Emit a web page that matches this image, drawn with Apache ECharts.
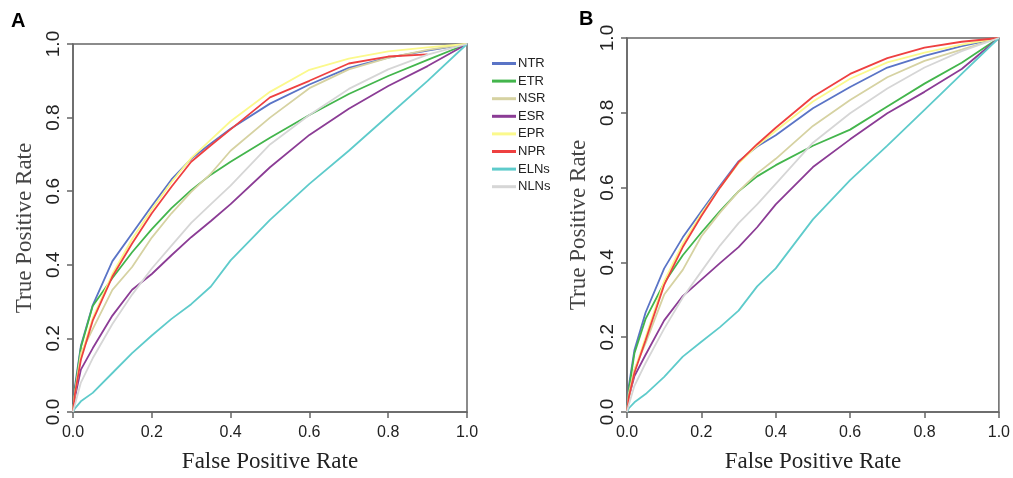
<!DOCTYPE html>
<html>
<head>
<meta charset="utf-8">
<script src="https://cdn.jsdelivr.net/npm/echarts@6/dist/echarts.min.js"></script>
<style>
html, body { margin: 0; padding: 0; background: #fff; }
#main { width: 1013px; height: 478px; }
</style>
</head>
<body>
<div id="main"></div>
<script>
// shared false positive rate grid
const fpr = [0, 0.005, 0.02, 0.05, 0.1, 0.15, 0.2, 0.25, 0.3, 0.35, 0.4, 0.5, 0.6, 0.7, 0.8, 0.9, 1];
const names = ["NTR", "ETR", "NSR", "ESR", "EPR", "NPR", "ELNs", "NLNs"];
const colors = ["#5a74c6", "#43b54c", "#d6d2a2", "#8b3c95", "#fbf98c", "#ee4040", "#5ecbcb", "#d6d6d6"];

// panel A true positive rates
const ntrA  = [0, 0.07, 0.18, 0.29, 0.41, 0.485, 0.56, 0.632, 0.688, 0.73, 0.77, 0.838, 0.89, 0.935, 0.963, 0.982, 1];
const etrA  = [0, 0.06, 0.175, 0.288, 0.364, 0.434, 0.497, 0.554, 0.603, 0.645, 0.68, 0.745, 0.807, 0.864, 0.913, 0.957, 1];
const nsrA  = [0, 0.05, 0.16, 0.225, 0.332, 0.394, 0.474, 0.54, 0.598, 0.648, 0.71, 0.80, 0.88, 0.931, 0.962, 0.984, 1];
const esrA  = [0, 0.04, 0.115, 0.173, 0.262, 0.332, 0.375, 0.426, 0.475, 0.519, 0.565, 0.665, 0.753, 0.824, 0.886, 0.94, 1];
const eprA  = [0, 0.05, 0.15, 0.255, 0.375, 0.47, 0.55, 0.625, 0.69, 0.74, 0.79, 0.87, 0.93, 0.96, 0.98, 0.991, 1];
const nprA  = [0, 0.05, 0.142, 0.248, 0.368, 0.458, 0.54, 0.612, 0.68, 0.725, 0.768, 0.855, 0.90, 0.947, 0.966, 0.972, null];
const elnsA = [0, 0.01, 0.029, 0.052, 0.106, 0.16, 0.208, 0.253, 0.293, 0.341, 0.412, 0.522, 0.62, 0.71, 0.805, 0.90, 1];
const nlnsA = [0, 0.02, 0.08, 0.146, 0.239, 0.319, 0.39, 0.452, 0.514, 0.565, 0.615, 0.727, 0.807, 0.878, 0.931, 0.971, 1];

// panel B true positive rates
const ntrB  = [0, 0.07, 0.166, 0.266, 0.384, 0.467, 0.537, 0.605, 0.67, 0.71, 0.74, 0.812, 0.869, 0.921, 0.952, 0.978, 1];
const etrB  = [0, 0.06, 0.157, 0.249, 0.345, 0.419, 0.48, 0.537, 0.59, 0.63, 0.66, 0.712, 0.755, 0.817, 0.878, 0.934, 1];
const nsrB  = [0, 0.05, 0.114, 0.184, 0.314, 0.38, 0.47, 0.533, 0.59, 0.638, 0.677, 0.765, 0.834, 0.895, 0.939, 0.969, 1];
const esrB  = [0, 0.04, 0.096, 0.153, 0.245, 0.31, 0.354, 0.398, 0.441, 0.494, 0.555, 0.655, 0.729, 0.799, 0.856, 0.917, 1];
const eprB  = [0, 0.04, 0.11, 0.2, 0.35, 0.45, 0.53, 0.6, 0.665, 0.712, 0.752, 0.83, 0.891, 0.935, 0.961, 0.982, 1];
const nprB  = [0, 0.04, 0.105, 0.192, 0.34, 0.441, 0.524, 0.6, 0.668, 0.716, 0.76, 0.843, 0.904, 0.946, 0.974, 0.99, 1];
const elnsB = [0, 0.01, 0.026, 0.048, 0.094, 0.148, 0.188, 0.227, 0.271, 0.336, 0.384, 0.515, 0.62, 0.712, 0.808, 0.904, 1];
const nlnsB = [0, 0.02, 0.07, 0.131, 0.223, 0.306, 0.376, 0.445, 0.505, 0.555, 0.61, 0.72, 0.799, 0.865, 0.921, 0.965, 1];

const tickLabels = ["0.0", "0.2", "0.4", "0.6", "0.8", "1.0"];

const panelA = [ntrA, etrA, nsrA, esrA, eprA, nprA, elnsA, nlnsA];
const panelB = [ntrB, etrB, nsrB, esrB, eprB, nprB, elnsB, nlnsB];

var mychart = echarts.init(document.getElementById("main"));

function pairs(tpr){
	const out = [];
	for(let i = 0; i < fpr.length; i++){
		if(tpr[i] !== null){ out.push([fpr[i], tpr[i]]); }
	}
	return out;
}

function fmt(v){ return tickLabels[Math.round(v * 5)]; }

function xAx(idx){
	return {
		type: "value", gridIndex: idx, min: 0, max: 1, interval: 0.2,
		name: "False Positive Rate", nameLocation: "middle", nameGap: 38,
		nameTextStyle: {fontFamily: "Liberation Serif", fontSize: 23, color: "#222"},
		axisLine: {lineStyle: {color: "#666", width: 1.5}},
		axisTick: {inside: false, length: 6, lineStyle: {color: "#666", width: 1.5}},
		axisLabel: {formatter: fmt, margin: 13, fontFamily: "Liberation Sans", fontSize: 16, color: "#222"},
		splitLine: {show: false}
	};
}
function yAx(idx){
	return {
		type: "value", gridIndex: idx, min: 0, max: 1, interval: 0.2,
		name: "True Positive Rate", nameLocation: "middle", nameGap: 37,
		nameTextStyle: {fontFamily: "Liberation Serif", fontSize: 23, color: "#444"},
		axisLine: {lineStyle: {color: "#666", width: 1.5}},
		axisTick: {inside: false, length: 6, lineStyle: {color: "#666", width: 1.5}},
		axisLabel: {formatter: fmt, rotate: 90, margin: 10, fontFamily: "Liberation Sans", fontSize: 19, color: "#222"},
		splitLine: {show: false}
	};
}

const series = [];
for(let i = 0; i < names.length; i++){
	series.push({name: names[i], type: "line", xAxisIndex: 0, yAxisIndex: 0, data: pairs(panelA[i]),
		showSymbol: false, lineStyle: {width: 1.8, color: colors[i]}, itemStyle: {color: colors[i]}});
}
for(let i = 0; i < names.length; i++){
	series.push({name: names[i], type: "line", xAxisIndex: 1, yAxisIndex: 1, data: pairs(panelB[i]),
		showSymbol: false, lineStyle: {width: 1.8, color: colors[i]}, itemStyle: {color: colors[i]}});
}

const option = {
	animation: false,
	title: [
		{text: "A", left: 6, top: 6, textStyle: {fontFamily: "Liberation Sans", fontWeight: "bold", fontSize: 20, color: "#000"}},
		{text: "B", left: 574, top: 4, textStyle: {fontFamily: "Liberation Sans", fontWeight: "bold", fontSize: 20, color: "#000"}}
	],
	grid: [
		{left: 73, top: 44, width: 394, height: 376, show: true, borderColor: "#666", borderWidth: 1.5},
		{left: 627, top: 38, width: 383, height: 382, show: true, borderColor: "#666", borderWidth: 1.5}
	],
	legend: {
		data: names, orient: "vertical", left: 487, top: 51,
		icon: "rect", itemWidth: 24, itemHeight: 3, itemGap: 2.6,
		textStyle: {fontFamily: "Liberation Sans", fontSize: 13, lineHeight: 15, color: "#222", padding: [0, 0, 0, -3]}
	},
	xAxis: [xAx(0), xAx(1)],
	yAxis: [yAx(0), yAx(1)],
	series: series
};
mychart.setOption(option);
</script>
</body>
</html>
